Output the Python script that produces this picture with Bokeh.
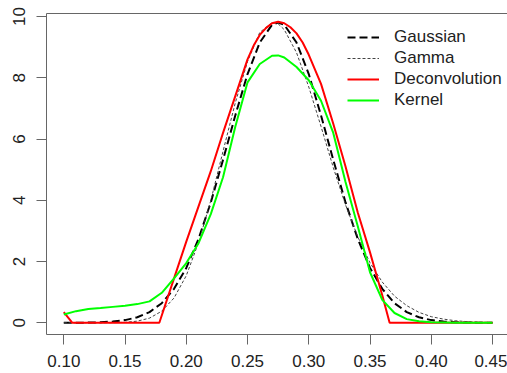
from bokeh.plotting import figure
from bokeh.models import Range1d, FixedTicker, LinearAxis
from bokeh.embed import file_html
from bokeh.resources import INLINE

# ---- data ----
grid_x = [0.10, 0.11, 0.12, 0.13, 0.14, 0.15, 0.16, 0.17, 0.18, 0.19,
          0.20, 0.21, 0.22, 0.23, 0.24, 0.25, 0.26, 0.27, 0.275, 0.28,
          0.29, 0.30, 0.31, 0.32, 0.33, 0.34, 0.35, 0.36, 0.37, 0.38,
          0.39, 0.40, 0.41, 0.42, 0.43, 0.44, 0.45]
gaussian = [0.0, 0.003, 0.007, 0.017, 0.04, 0.088, 0.18, 0.35, 0.64, 1.11,
            1.79, 2.74, 3.93, 5.32, 6.77, 8.12, 9.15, 9.73, 9.8, 9.73,
            9.15, 8.12, 6.77, 5.32, 3.93, 2.74, 1.79, 1.11, 0.64, 0.35,
            0.18, 0.088, 0.04, 0.017, 0.007, 0.003, 0.001]
gamma = [0.0, 0.0, 0.0003, 0.001, 0.004, 0.016, 0.054, 0.153, 0.38, 0.81,
         1.54, 2.62, 3.99, 5.6, 7.18, 8.53, 9.48, 9.8, 9.76, 9.57,
         8.82, 7.7, 6.41, 5.07, 3.85, 2.81, 1.96, 1.33, 0.87, 0.56,
         0.34, 0.2, 0.12, 0.066, 0.036, 0.02, 0.01]
kernel = [0.27, 0.38, 0.45, 0.48, 0.52, 0.56, 0.61, 0.70, 0.98, 1.45,
          1.95, 2.6, 3.55, 4.75, 6.4, 7.85, 8.45, 8.72, 8.73, 8.66,
          8.35, 7.92, 7.25, 6.2, 4.6, 3.15, 1.65, 0.75, 0.32, 0.12,
          0.05, 0.02, 0.01, 0.0, 0.0, 0.0, 0.0]
decon_x = [0.100, 0.107, 0.178, 0.19, 0.20, 0.21, 0.22, 0.23, 0.24, 0.25,
           0.255, 0.26, 0.265, 0.27, 0.275, 0.28, 0.285, 0.29, 0.295, 0.30,
           0.31, 0.32, 0.33, 0.34, 0.35, 0.36, 0.366, 0.45]
decon_y = [0.35, 0.0, 0.0, 1.45, 2.65, 3.8, 4.95, 6.2, 7.4, 8.6,
           9.05, 9.4, 9.62, 9.78, 9.83, 9.78, 9.65, 9.45, 9.15, 8.75,
           7.8, 6.5, 5.1, 3.6, 2.3, 0.9, 0.0, 0.0]

x_ticks = [0.10, 0.15, 0.20, 0.25, 0.30, 0.35, 0.40, 0.45]
x_tick_labels = ["0.10", "0.15", "0.20", "0.25", "0.30", "0.35", "0.40", "0.45"]
y_ticks = [0, 2, 4, 6, 8, 10]
y_tick_labels = ["0", "2", "4", "6", "8", "10"]
series_names = ["Gaussian", "Gamma", "Deconvolution", "Kernel"]

FONT = "Liberation Sans"
AXIS_COLOR = "#666666"
TEXT_COLOR = "#222222"

p = figure(width=507, height=373, output_backend="svg", toolbar_location=None,
           x_range=Range1d(0.08588, 0.46224), y_range=Range1d(-0.382, 10.098),
           min_border_left=46, min_border_right=0, min_border_top=13,
           min_border_bottom=39)
p.outline_line_color = None
p.grid.visible = False
p.background_fill_color = "white"
p.border_fill_color = "white"

p.line(grid_x, gaussian, line_color="black", line_width=2, line_dash="8 4",
       legend_label=series_names[0])
p.line(grid_x, gamma, line_color="#444444", line_width=1, line_dash="3 2",
       legend_label=series_names[1])
p.line(decon_x, decon_y, line_color="#FF0000", line_width=2,
       legend_label=series_names[2])
p.line(grid_x, kernel, line_color="#00FF00", line_width=2,
       legend_label=series_names[3])

# axes
xa = p.xaxis[0]
xa.ticker = FixedTicker(ticks=x_ticks)
xa.major_label_overrides = {t: l for t, l in zip(x_ticks, x_tick_labels)}
ya = p.yaxis[0]
ya.ticker = FixedTicker(ticks=y_ticks)
ya.major_label_overrides = {t: l for t, l in zip(y_ticks, y_tick_labels)}
ya.major_label_orientation = "vertical"
for ax in (xa, ya):
    ax.minor_tick_line_color = None
    ax.major_tick_in = 0
    ax.major_tick_out = 10
    ax.axis_line_color = AXIS_COLOR
    ax.major_tick_line_color = AXIS_COLOR
    ax.major_label_text_font = FONT
    ax.major_label_text_font_size = "17px"
    ax.major_label_text_color = TEXT_COLOR
xa.major_label_standoff = 10
ya.major_label_standoff = 11

top = LinearAxis(ticker=FixedTicker(ticks=[]), major_tick_out=0,
                 major_tick_in=0, minor_tick_line_color=None,
                 major_label_standoff=0, axis_line_color=AXIS_COLOR,
                 major_label_text_font_size="0px")
p.add_layout(top, "above")

lg = p.legend[0]
lg.location = (301, 224)
lg.padding = 0
lg.margin = 0
lg.spacing = 1
lg.border_line_color = None
lg.background_fill_alpha = 0
lg.glyph_width = 32
lg.glyph_height = 20
lg.label_height = 20
lg.label_standoff = 15
lg.label_text_font = FONT
lg.label_text_font_size = "17px"
lg.label_text_color = TEXT_COLOR

open("out.html", "w").write(file_html(p, INLINE))
